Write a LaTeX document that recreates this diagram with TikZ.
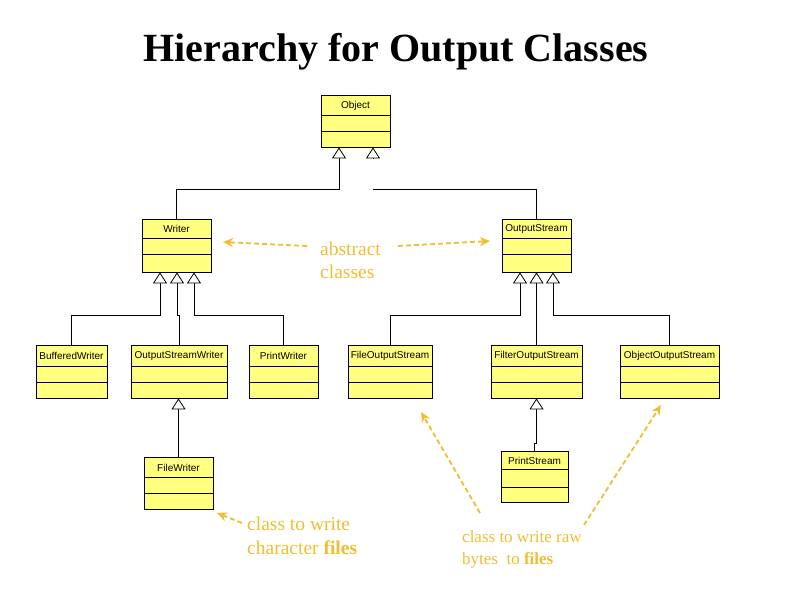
\documentclass[tikz,border=0pt]{standalone}
\usepackage{fontspec}
\setmainfont{Liberation Serif}
\newfontfamily\clsfont{Liberation Sans}
\usetikzlibrary{arrows.meta,fit}
\definecolor{umlyellow}{RGB}{255,255,128}
\definecolor{notecol}{RGB}{240,190,50}
\tikzset{
  clsbox/.style={draw=black, fill=umlyellow, inner sep=0pt, line width=0.8pt},
  clsname/.style={font=\clsfont\fontsize{10}{11}\selectfont, inner sep=0pt},
  gen/.style={draw=black, line width=0.9pt, -{Triangle[open, fill=white, length=11pt, width=14pt, line width=0.8pt]}},
  conn/.style={draw=black, line width=0.9pt},
  notearrow/.style={draw=notecol, line width=1.8pt, dash pattern=on 5pt off 3pt, -{Stealth[length=10pt, width=9pt]}},
  notetext/.style={text=notecol, align=left, inner sep=0pt, anchor=base west},
}
\newcommand{\umlclass}[8]{%
  \node[clsbox, fit={(#2,#3)(#4,#5)}] (#1) {};
  \draw[line width=0.8pt] (#2,#6) -- (#4,#6);
  \draw[line width=0.8pt] (#2,#7) -- (#4,#7);
  \node[clsname] (#1-label) at ({(#2+#4)/2},{(#3+#6)/2+0.5}) {#8};
}
\begin{document}
\begin{tikzpicture}[x=1pt,y=-1pt]
\useasboundingbox[fill=white] (0,0) rectangle (794,595);

\node[font=\bfseries\fontsize{40}{44}\selectfont, anchor=base] (title) at (396,61) {Hierarchy for Output Classes};

\umlclass{obj}{321}{95}{390}{147}{115}{131}{Object}
\umlclass{wr}{142}{219}{211}{272}{238}{254}{Writer}
\umlclass{os}{502}{219}{571}{272}{238}{254}{OutputStream}
\umlclass{bw}{36}{345}{107}{398}{366}{382}{BufferedWriter}
\umlclass{osw}{131}{345}{227}{398}{366}{382}{OutputStreamWriter}
\umlclass{pw}{249}{345}{318}{398}{366}{382}{PrintWriter}
\umlclass{fos}{348}{345}{432}{398}{366}{382}{FileOutputStream}
\umlclass{flos}{491}{345}{582}{398}{366}{382}{FilterOutputStream}
\umlclass{oos}{620}{345}{719}{398}{366}{382}{ObjectOutputStream}
\umlclass{fw}{144}{457}{213}{509}{477}{493}{FileWriter}
\umlclass{ps}{501}{451}{568}{502}{469}{487}{PrintStream}

% inheritance
\draw[gen] (wr.north) |- (339,189) -- (obj.south -| 339,0);
\draw[conn] (os.north) |- (373,189);
\draw[gen] (373,158) -- (obj.south -| 373,0);

\draw[gen] (bw.north) |- (160,315) -- (wr.south -| 160,0);
\draw[gen] (osw.north) |- (177,315) -- (wr.south -| 177,0);
\draw[gen] (pw.north) |- (194,315) -- (wr.south -| 194,0);

\draw[gen] (fos.north) |- (520,315) -- (os.south -| 520,0);
\draw[gen] (flos.north) -- (flos.north |- os.south);
\draw[gen] (oos.north) |- (553,315) -- (os.south -| 553,0);

\draw[gen] (fw.north) -- (fw.north |- osw.south);
\draw[gen] (ps.north) -- ([yshift=7pt]ps.north) -| (flos.south);

% notes (base anchor = baseline of the last line)
\node[notetext, font=\fontsize{19.5}{23}\selectfont] (abs) at (320,278) {abstract\\classes};
\node[notetext, font=\fontsize{19.5}{24}\selectfont] (chr) at (247,554) {class to write\\character \textbf{files}};
\node[notetext, font=\fontsize{17}{22}\selectfont] (byt) at (462,564) {class to write raw\\bytes\ \ to \textbf{files}};

\coordinate (absL) at (307,246);
\coordinate (absR) at (398,246);
\coordinate (wrT) at (223,242);
\coordinate (osT) at (490,241);
\coordinate (chrT) at (242,523);
\coordinate (fwT) at (217,513);
\coordinate (bytL) at (480,513);
\coordinate (fosT) at (421,412);
\coordinate (bytR) at (584,525);
\coordinate (oosT) at (661,405);

\draw[notearrow] (absL) -- (wrT);
\draw[notearrow] (absR) -- (osT);
\draw[notearrow] (chrT) -- (fwT);
\draw[notearrow] (bytL) -- (fosT);
\draw[notearrow] (bytR) -- (oosT);
\end{tikzpicture}
\end{document}
